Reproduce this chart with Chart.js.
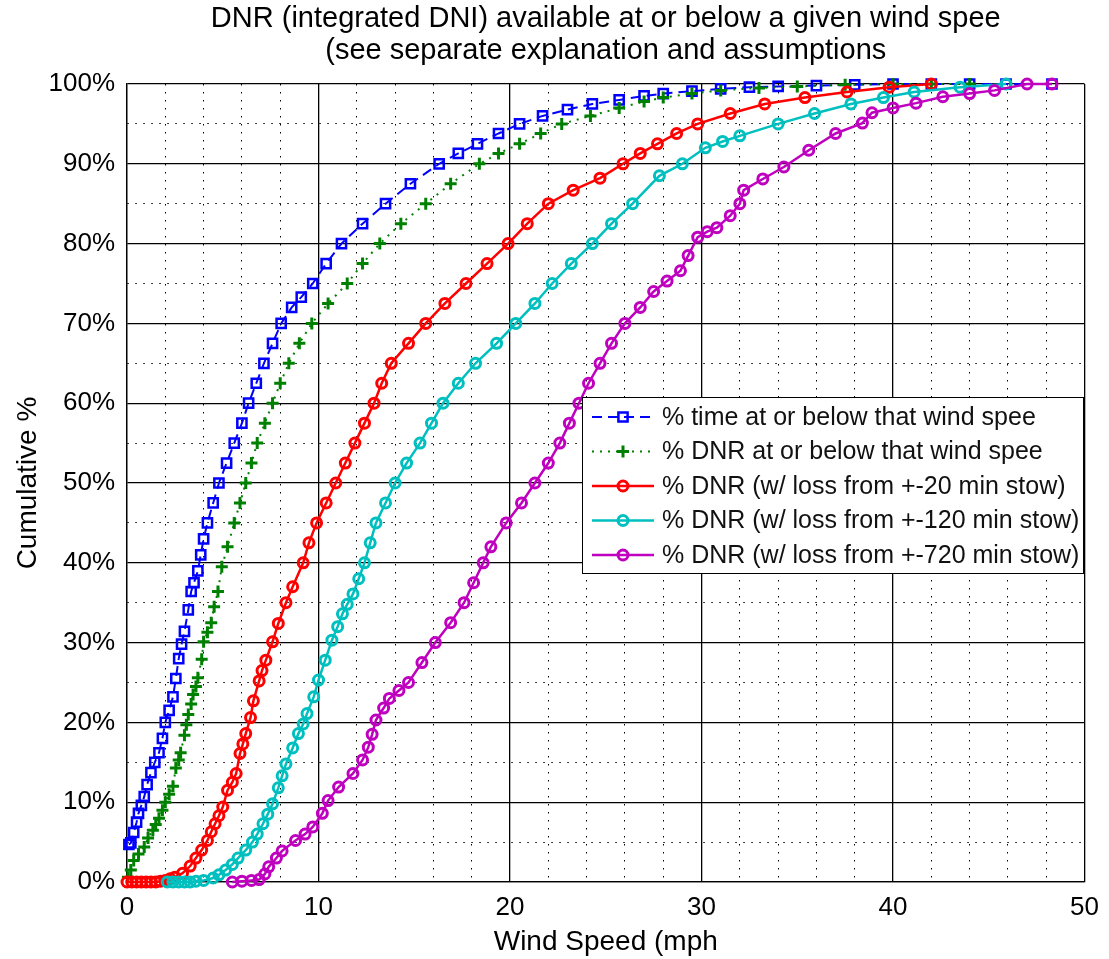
<!DOCTYPE html>
<html>
<head>
<meta charset="utf-8">
<script src="https://cdn.jsdelivr.net/npm/chart.js@4.4.0/dist/chart.umd.min.js"></script>
<style>
  html, body { margin: 0; padding: 0; background: #fff; }
</style>
</head>
<body>
<canvas id="myChart" width="1109" height="959"></canvas>
<script>
// Values: wind speed (mph) vs cumulative %
const timeSpeed = [0.1, 0.2, 0.35, 0.5, 0.6, 0.75, 0.9, 1.05, 1.25, 1.45, 1.67, 1.85, 2.0, 2.2, 2.4, 2.55, 2.7, 2.85, 3.0, 3.2, 3.35, 3.5, 3.7, 3.85, 4.0, 4.2, 4.5, 4.8, 5.2, 5.6, 6.0, 6.35, 6.75, 7.15, 7.6, 8.05, 8.6, 9.1, 9.7, 10.4, 11.2, 12.3, 13.5, 14.8, 16.3, 17.3, 18.3, 19.4, 20.5, 21.7, 23, 24.3, 25.7, 27, 28, 29.5, 31, 32.5, 34, 36, 38, 40, 42, 44, 45.9, 48.3]
const timePct   = [4.7, 4.9, 6.2, 7.5, 8.6, 9.6, 10.7, 12.2, 13.7, 15, 16.2, 18, 20, 21.5, 23.2, 25.5, 28, 29.8, 31.4, 34.1, 36.4, 37.5, 39, 41, 43, 45, 47.5, 50, 52.5, 55, 57.5, 60, 62.5, 65, 67.5, 70, 72, 73.3, 75, 77.5, 80, 82.5, 85, 87.5, 90, 91.3, 92.5, 93.8, 95, 96, 96.8, 97.5, 98, 98.5, 98.8, 99.1, 99.4, 99.6, 99.7, 99.8, 99.9, 100, 100, 100, 100, 100]

const dnrSpeed = [0.05, 0.2, 0.35, 0.6, 0.9, 1.1, 1.35, 1.5, 1.67, 1.85, 2.0, 2.2, 2.4, 2.55, 2.7, 2.8, 3.0, 3.1, 3.2, 3.35, 3.45, 3.6, 3.7, 3.9, 4.0, 4.2, 4.4, 4.55, 4.75, 4.95, 5.25, 5.6, 5.9, 6.2, 6.5, 6.8, 7.2, 7.6, 8.0, 8.45, 9.0, 9.65, 10.5, 11.5, 12.3, 13.2, 14.3, 15.6, 16.9, 18.4, 19.4, 20.5, 21.6, 22.7, 24.2, 25.7, 27, 28, 29.5, 31, 33, 35, 37.5, 40, 42, 44]
const dnrPct   = [0.6, 1.5, 2.7, 3.5, 4.4, 5.5, 6.5, 7.2, 8, 9, 10, 11, 12, 14.3, 15.3, 16.2, 18.4, 19.7, 21, 22.3, 23.5, 24.5, 25.6, 27.9, 30.1, 31.3, 32.5, 34.5, 36.4, 39.5, 42, 45, 47.5, 50, 52.5, 55, 57.5, 60, 62.5, 65, 67.5, 70, 72.5, 75, 77.5, 80, 82.5, 85, 87.5, 90, 91.3, 92.5, 93.8, 95, 96, 97, 97.8, 98.3, 98.8, 99.2, 99.5, 99.7, 99.9, 100, 100, 100]

const stow20Speed = [0, 0.25, 0.5, 0.75, 1, 1.25, 1.5, 1.75, 2.0, 2.25, 2.5, 2.9, 3.3, 3.6, 3.9, 4.2, 4.4, 4.6, 4.8, 5.0, 5.25, 5.5, 5.7, 5.9, 6.05, 6.2, 6.45, 6.6, 6.9, 7.05, 7.25, 7.6, 7.9, 8.3, 8.65, 9.2, 9.5, 9.9, 10.4, 10.9, 11.4, 11.9, 12.4, 12.9, 13.3, 13.8, 14.7, 15.6, 16.6, 17.7, 18.8, 19.9, 20.9, 22.0, 23.3, 24.7, 25.9, 26.8, 27.7, 28.7, 29.8, 31.5, 33.3, 35.4, 37.6, 39.8, 42]
const stow20Pct   = [0, 0, 0, 0, 0, 0, 0, 0.1, 0.2, 0.4, 0.6, 1.1, 2, 3, 4, 5.2, 6.3, 7.3, 8.3, 9.4, 11.5, 12.5, 13.6, 16.1, 17.3, 18.6, 20.6, 22.7, 25.2, 26.5, 27.8, 30.1, 32.4, 35, 37, 40, 42.5, 45, 47.5, 50, 52.5, 55, 57.5, 60, 62.5, 65, 67.5, 70, 72.5, 75, 77.5, 80, 82.5, 85, 86.7, 88.2, 90, 91.3, 92.5, 93.8, 95, 96.3, 97.5, 98.3, 99, 99.6, 100]

const stow120Speed = [2.1, 2.4, 2.7, 3, 3.3, 3.6, 4, 4.5, 4.8, 5.15, 5.5, 5.8, 6.2, 6.55, 6.8, 7.1, 7.35, 7.6, 7.9, 8.1, 8.3, 8.65, 8.95, 9.2, 9.4, 9.75, 10.0, 10.35, 10.7, 11.0, 11.25, 11.5, 11.8, 12.1, 12.4, 12.7, 13.0, 13.5, 14.0, 14.6, 15.3, 15.9, 16.5, 17.3, 18.2, 19.3, 20.3, 21.3, 22.2, 23.2, 24.3, 25.3, 26.4, 27.8, 29.0, 30.2, 31.1, 32, 34.0, 35.9, 37.8, 39.5, 41.1, 43.5, 45.9]
const stow120Pct   = [0, 0, 0, 0, 0, 0.1, 0.2, 0.5, 0.9, 1.5, 2.2, 3, 4, 5, 6, 7.3, 8.5, 9.8, 11.8, 13.3, 14.8, 16.8, 18.6, 19.8, 21.1, 23.2, 25.3, 27.8, 30.3, 32, 33.6, 34.8, 36.1, 38, 40, 42.5, 45, 47.5, 50, 52.5, 55, 57.5, 60, 62.5, 65, 67.5, 70, 72.5, 75, 77.5, 80, 82.5, 85, 88.5, 90, 92, 92.8, 93.5, 95, 96.3, 97.5, 98.3, 99, 99.6, 100]

const stow720Speed = [5.5, 6, 6.5, 6.9, 7.2, 7.4, 7.8, 8.1, 8.8, 9.3, 9.7, 10.2, 10.5, 11.05, 11.8, 12.3, 12.6, 12.8, 13.0, 13.4, 13.7, 14.2, 14.7, 15.4, 16.1, 16.9, 17.6, 18.1, 18.6, 19.0, 19.8, 20.6, 21.3, 22.0, 22.6, 23.1, 23.6, 24.1, 24.7, 25.3, 26, 26.8, 27.5, 28.2, 28.9, 29.3, 29.8, 30.3, 30.8, 31.5, 32.0, 32.2, 33.2, 34.3, 35.6, 37.0, 38.4, 38.9, 40.0, 41.2, 42.6, 44, 45.3, 47, 48.3]
const stow720Pct   = [0, 0.1, 0.2, 0.3, 1, 1.9, 3, 3.9, 5.2, 6, 6.9, 8.6, 10.2, 11.9, 13.6, 15.3, 16.9, 18.5, 20.3, 21.8, 23, 24, 25, 27.5, 30, 32.5, 35, 37.5, 40, 42, 45, 47.5, 50, 52.5, 55, 57.5, 60, 62.5, 65, 67.5, 70, 72, 74, 75.3, 76.6, 78.5, 80.8, 81.5, 82, 83.5, 85, 86.7, 88.1, 89.6, 91.7, 93.8, 95.1, 96.4, 97, 97.6, 98.4, 98.8, 99.2, 100, 100]

// tick labels (major) - minor grid every 2 mph / 5 %
const xMajor = [0, 10, 20, 30, 40, 50]
const yMajor = [0, 10, 20, 30, 40, 50, 60, 70, 80, 90, 100]

const titleLines = ['DNR (integrated DNI) available at or below a given wind spee', '(see separate explanation and assumptions']

function pts(xs, ys) {
    return xs.map((x, i) => ({x: x, y: ys[i]}))
}

Chart.defaults.font.family = "'Liberation Sans', Arial, sans-serif"
Chart.defaults.color = '#000'

// title centred over the plot box (like matlab)
const titlePlugin = {
    id: 'plotTitle',
    afterDraw(chart) {
        const ctx = chart.ctx
        const area = chart.chartArea
        ctx.save()
        ctx.fillStyle = '#000'
        ctx.font = "29px 'Liberation Sans', Arial, sans-serif"
        ctx.textAlign = 'center'
        ctx.textBaseline = 'middle'
        const cx = (area.left + area.right) / 2
        ctx.fillText(titleLines[0], cx, 19)
        ctx.fillText(titleLines[1], cx, 51)
        ctx.restore()
    }
}

// legend box inside the plot, with line + marker sample
const legendPlugin = {
    id: 'boxLegend',
    afterDraw(chart) {
        const ctx = chart.ctx
        const bx = 582, by = 397, bw = 501, bh = 176
        ctx.save()
        ctx.fillStyle = '#fff'
        ctx.fillRect(bx, by, bw, bh)
        ctx.strokeStyle = '#000'
        ctx.lineWidth = 1
        ctx.strokeRect(bx + 0.5, by + 0.5, bw, bh)

        chart.data.datasets.forEach((ds, i) => {
            const y = by + 20 + i * 34.5
            ctx.strokeStyle = ds.borderColor
            ctx.lineWidth = ds.borderWidth
            ctx.setLineDash(ds.borderDash || [])
            ctx.beginPath()
            ctx.moveTo(bx + 10, y)
            ctx.lineTo(bx + 72, y)
            ctx.stroke()
            ctx.setLineDash([])
            ctx.lineWidth = ds.pointBorderWidth
            ctx.fillStyle = 'rgba(0,0,0,0)'
            Chart.helpers.drawPoint(ctx, {pointStyle: ds.pointStyle, radius: ds.pointRadius, rotation: 0, borderWidth: ds.pointBorderWidth}, bx + 41, y)

            ctx.fillStyle = '#111'
            ctx.font = "25px 'Liberation Sans', Arial, sans-serif"
            ctx.textAlign = 'left'
            ctx.textBaseline = 'middle'
            ctx.fillText(ds.label, bx + 80, y + 1)
        })
        ctx.restore()
    }
}

const isMinor = (ctx, step) => ctx.tick && Math.round(ctx.tick.value) % step !== 0

const chart1 = document.getElementById('myChart')
new Chart(chart1, {
    type: 'line',
    data: {
        datasets: [
            {
                label: '% time at or below that wind spee',
                data: pts(timeSpeed, timePct),
                borderColor: '#0000ff',
                borderWidth: 2,
                borderDash: [10, 6],
                pointStyle: 'rect',
                pointRadius: 6.5,
                pointBorderWidth: 2.5,
                pointBorderColor: '#0000ff',
                pointBackgroundColor: 'rgba(0,0,0,0)',
                order: 5
            },
            {
                label: '% DNR at or below that wind spee',
                data: pts(dnrSpeed, dnrPct),
                borderColor: '#008000',
                borderWidth: 2,
                borderDash: [2, 6],
                pointStyle: 'cross',
                pointRadius: 6,
                pointBorderWidth: 3,
                pointBorderColor: '#008000',
                pointBackgroundColor: 'rgba(0,0,0,0)',
                order: 4
            },
            {
                label: '% DNR (w/ loss from +-20 min stow)',
                data: pts(stow20Speed, stow20Pct),
                borderColor: '#ff0000',
                borderWidth: 2.5,
                pointStyle: 'circle',
                pointRadius: 5,
                pointBorderWidth: 3,
                pointBorderColor: '#ff0000',
                pointBackgroundColor: 'rgba(0,0,0,0)',
                order: 3
            },
            {
                label: '% DNR (w/ loss from +-120 min stow)',
                data: pts(stow120Speed, stow120Pct),
                borderColor: '#00bfbf',
                borderWidth: 2.5,
                pointStyle: 'circle',
                pointRadius: 5,
                pointBorderWidth: 3,
                pointBorderColor: '#00bfbf',
                pointBackgroundColor: 'rgba(0,0,0,0)',
                order: 2
            },
            {
                label: '% DNR (w/ loss from +-720 min stow)',
                data: pts(stow720Speed, stow720Pct),
                borderColor: '#bf00bf',
                borderWidth: 2.5,
                pointStyle: 'circle',
                pointRadius: 5,
                pointBorderWidth: 3,
                pointBorderColor: '#bf00bf',
                pointBackgroundColor: 'rgba(0,0,0,0)',
                order: 1
            }
        ]
    },
    options: {
        responsive: false,
        animation: false,
        devicePixelRatio: 1,
        datasets: {
            line: { tension: 0, clip: false, fill: false }
        },
        layout: {
            padding: { top: 84, right: 16, left: 0, bottom: 0 }
        },
        scales: {
            x: {
                type: 'linear',
                min: 0,
                max: 50,
                afterFit: (scale) => { scale.height = 77 },
                ticks: {
                    stepSize: 2,
                    autoSkip: false,
                    maxRotation: 0,
                    padding: 10,
                    font: { size: 26 },
                    color: '#000',
                    callback: (v) => xMajor.includes(v) ? String(v) : ''
                },
                grid: {
                    drawTicks: false,
                    color: '#000',
                    lineWidth: (ctx) => isMinor(ctx, 10) ? 1 : 1.3
                },
                border: {
                    display: true,
                    color: '#000',
                    width: 1.3,
                    dash: (ctx) => isMinor(ctx, 10) ? [1.5, 6.5] : []
                },
                title: {
                    display: true,
                    text: 'Wind Speed (mph',
                    font: { size: 28 },
                    color: '#000',
                    padding: { top: 4, bottom: 0 }
                }
            },
            y: {
                min: 0,
                max: 100,
                afterFit: (scale) => { scale.width = 127 },
                ticks: {
                    stepSize: 5,
                    autoSkip: false,
                    padding: 12,
                    font: { size: 26 },
                    color: '#000',
                    callback: (v) => yMajor.includes(v) ? v + '%' : ''
                },
                grid: {
                    drawTicks: false,
                    color: '#000',
                    lineWidth: (ctx) => isMinor(ctx, 10) ? 1 : 1.3
                },
                border: {
                    display: true,
                    color: '#000',
                    width: 1.3,
                    dash: (ctx) => isMinor(ctx, 10) ? [1.5, 6.5] : []
                },
                title: {
                    display: true,
                    text: 'Cumulative %',
                    font: { size: 28 },
                    color: '#000',
                    padding: { top: 11, bottom: 4 }
                }
            }
        },
        plugins: {
            legend: { display: false },
            tooltip: { enabled: false },
            title: { display: false }
        }
    },
    plugins: [titlePlugin, legendPlugin]
})
</script>
</body>
</html>
